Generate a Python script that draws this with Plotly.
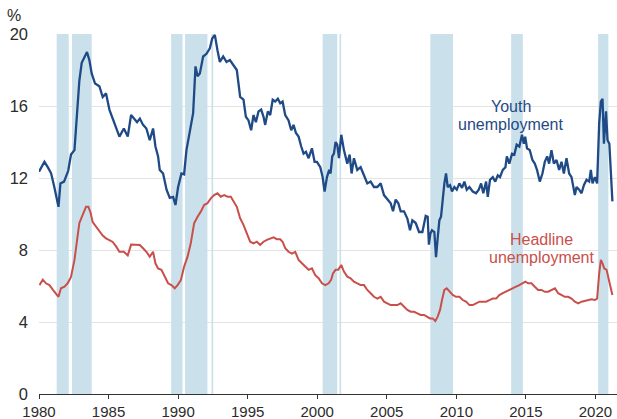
import plotly.graph_objects as go

# Shaded periods (decimal years)
shade_start = [1981.27, 1982.37, 1989.50, 1990.50, 1992.40, 2000.39, 2001.60, 2008.13, 2013.94, 2020.19]
shade_end = [1982.14, 1983.79, 1990.32, 1992.11, 1992.52, 2001.44, 2001.72, 2009.76, 2014.78, 2020.93]

# Youth unemployment (%)
youth_t = [1980.0, 1980.39, 1980.63, 1980.87, 1981.1, 1981.4, 1981.54, 1981.8, 1982.1, 1982.3,
           1982.55, 1982.73, 1982.9, 1983.07, 1983.26, 1983.45, 1983.62, 1983.79, 1984.03, 1984.34,
           1984.58, 1984.82, 1985.06, 1985.3, 1985.54, 1985.78, 1986.1, 1986.38, 1986.62, 1986.86,
           1987.05, 1987.25, 1987.48, 1987.72, 1987.96, 1988.2, 1988.37, 1988.56, 1988.68, 1988.92,
           1989.17, 1989.4, 1989.64, 1989.81, 1990.0, 1990.24, 1990.43, 1990.6, 1990.84, 1991.08,
           1991.25, 1991.4, 1991.56, 1991.8, 1992.04, 1992.28, 1992.45, 1992.64, 1992.83, 1993.0,
           1993.24, 1993.48, 1993.72, 1993.96, 1994.22, 1994.46, 1994.7, 1994.87, 1995.06, 1995.25,
           1995.42, 1995.59, 1995.78, 1995.97, 1996.14, 1996.26, 1996.45, 1996.62, 1996.8, 1996.98,
           1997.17, 1997.34, 1997.51, 1997.7, 1997.94, 1998.13, 1998.3, 1998.47, 1998.66, 1998.85,
           1999.02, 1999.19, 1999.38, 1999.62, 1999.81, 1999.98, 2000.22, 2000.39, 2000.53, 2000.7,
           2000.86, 2000.96, 2001.08, 2001.2, 2001.32, 2001.44, 2001.56, 2001.73, 2001.92, 2002.16,
           2002.33, 2002.47, 2002.64, 2002.88, 2003.12, 2003.36, 2003.6, 2003.84, 2004.08, 2004.32,
           2004.56, 2004.8, 2005.04, 2005.28, 2005.45, 2005.64, 2005.83, 2006.0, 2006.24, 2006.48,
           2006.67, 2006.84, 2007.08, 2007.32, 2007.56, 2007.8, 2007.94, 2008.03, 2008.13, 2008.25,
           2008.42, 2008.54, 2008.67, 2008.78, 2008.9, 2009.02, 2009.14, 2009.26, 2009.38, 2009.55,
           2009.69, 2009.86, 2010.03, 2010.22, 2010.41, 2010.58, 2010.75, 2010.94, 2011.18, 2011.42,
           2011.61, 2011.78, 2011.94, 2012.14, 2012.26, 2012.42, 2012.62, 2012.8, 2012.98, 2013.14,
           2013.34, 2013.53, 2013.63, 2013.81, 2014.0, 2014.17, 2014.34, 2014.53, 2014.72, 2014.85,
           2014.95, 2015.08, 2015.28, 2015.47, 2015.64, 2015.8, 2016.0, 2016.19, 2016.36, 2016.53,
           2016.67, 2016.84, 2017.01, 2017.2, 2017.39, 2017.56, 2017.73, 2017.92, 2018.11, 2018.28,
           2018.4, 2018.52, 2018.64, 2018.83, 2019.0, 2019.17, 2019.36, 2019.55, 2019.67, 2019.79,
           2019.96, 2020.12, 2020.27, 2020.39, 2020.51, 2020.61, 2020.76, 2020.87, 2021.0, 2021.1,
           2021.22]
youth_v = [12.35, 12.9, 12.6, 12.26, 11.5, 10.4, 11.7, 11.8, 12.4, 13.3,
           13.55, 15.6, 17.4, 18.4, 18.7, 19.0, 18.55, 17.8, 17.25, 17.1,
           16.5, 16.7, 15.8, 15.3, 14.85, 14.3, 14.75, 14.3, 15.5, 15.3,
           15.1, 15.3, 14.95, 14.75, 14.1, 14.75, 13.75, 13.2, 12.45, 12.25,
           11.35, 10.9, 10.95, 10.5, 11.5, 12.25, 12.2, 13.55, 14.65, 15.6,
           18.2, 17.65, 17.8, 18.75, 18.9, 19.2, 19.75, 19.95, 19.1, 18.45,
           18.75, 18.45, 18.55, 18.25, 18.0, 16.5, 16.35, 15.4, 15.2, 14.65,
           15.5, 15.1, 15.7, 15.8, 15.4, 14.95, 15.7, 15.5, 16.35, 16.25,
           16.4, 16.15, 16.25, 15.5, 15.2, 14.65, 14.95, 14.5, 14.3, 13.75,
           13.35, 13.45, 13.1, 13.65, 12.9, 12.9, 12.6, 12.05, 11.25, 12.05,
           12.45, 12.25, 13.2, 13.35, 14.0, 13.85, 13.1, 14.4, 13.55, 12.8,
           13.3, 12.25, 13.1, 12.45, 12.6, 12.15, 11.7, 11.8, 11.5, 11.5,
           11.7, 11.05, 10.85, 10.6, 10.15, 10.8, 10.6, 10.15, 10.15, 9.75,
           9.1, 9.65, 9.5, 9.0, 9.0, 9.9, 9.85, 8.3, 8.9, 9.1,
           9.0, 7.6, 8.75, 9.65, 9.85, 10.95, 11.7, 12.25, 11.5, 11.6,
           11.25, 11.5, 11.35, 11.7, 11.45, 11.8, 11.35, 11.5, 11.25, 11.15,
           11.35, 11.7, 11.15, 11.8, 10.95, 11.9, 12.05, 11.8, 12.15, 12.05,
           12.45, 12.6, 13.2, 12.8, 13.35, 13.3, 13.85, 13.75, 14.4, 13.9,
           14.3, 13.65, 13.55, 13.0, 12.8, 12.45, 11.8, 12.25, 12.9, 13.2,
           12.8, 13.55, 12.8, 13.0, 12.45, 12.9, 12.25, 13.1, 12.25, 12.05,
           11.5, 11.05, 11.5, 11.35, 11.15, 11.6, 11.9, 11.8, 12.45, 11.7,
           12.05, 11.7, 15.05, 16.25, 16.4, 13.9, 15.7, 14.1, 13.9, 12.25,
           10.7]

# Headline unemployment (%)
head_t = [1980.03, 1980.27, 1980.5, 1980.75, 1980.99, 1981.23, 1981.4, 1981.58, 1981.83, 1982.06,
          1982.3, 1982.55, 1982.73, 1982.9, 1983.14, 1983.38, 1983.55, 1983.7, 1983.86, 1984.1,
          1984.34, 1984.58, 1984.82, 1985.06, 1985.3, 1985.54, 1985.78, 1986.1, 1986.38, 1986.62,
          1986.98, 1987.25, 1987.48, 1987.72, 1987.96, 1988.2, 1988.37, 1988.56, 1988.8, 1989.04,
          1989.28, 1989.52, 1989.76, 1989.96, 1990.2, 1990.43, 1990.68, 1990.91, 1991.15, 1991.4,
          1991.63, 1991.87, 1992.11, 1992.35, 1992.59, 1992.83, 1993.07, 1993.31, 1993.55, 1993.79,
          1994.0, 1994.22, 1994.46, 1994.7, 1994.94, 1995.18, 1995.42, 1995.66, 1995.9, 1996.14,
          1996.38, 1996.62, 1996.86, 1997.1, 1997.34, 1997.51, 1997.7, 1997.94, 1998.18, 1998.42,
          1998.66, 1998.9, 1999.14, 1999.38, 1999.62, 1999.86, 2000.1, 2000.34, 2000.58, 2000.82,
          2001.0, 2001.13, 2001.32, 2001.51, 2001.73, 2001.92, 2002.16, 2002.4, 2002.64, 2002.88,
          2003.12, 2003.36, 2003.6, 2003.84, 2004.08, 2004.32, 2004.56, 2004.8, 2005.04, 2005.28,
          2005.52, 2005.76, 2006.0, 2006.24, 2006.48, 2006.72, 2006.96, 2007.2, 2007.44, 2007.68,
          2007.92, 2008.11, 2008.3, 2008.49, 2008.66, 2008.83, 2008.97, 2009.14, 2009.31, 2009.5,
          2009.74, 2009.98, 2010.22, 2010.46, 2010.7, 2010.94, 2011.18, 2011.42, 2011.66, 2011.9,
          2012.14, 2012.38, 2012.62, 2012.86, 2013.09, 2013.34, 2013.58, 2013.81, 2014.05, 2014.29,
          2014.53, 2014.77, 2014.96, 2015.16, 2015.4, 2015.64, 2015.88, 2016.12, 2016.36, 2016.6,
          2016.84, 2017.09, 2017.32, 2017.56, 2017.8, 2018.04, 2018.28, 2018.52, 2018.76, 2019.0,
          2019.24, 2019.48, 2019.72, 2019.96, 2020.12, 2020.27, 2020.39, 2020.51, 2020.63, 2020.8,
          2020.94, 2021.08, 2021.22]
head_v = [6.05, 6.35, 6.15, 6.05, 5.8, 5.6, 5.4, 5.87, 5.96, 6.15,
          6.5, 7.45, 8.4, 9.5, 9.95, 10.4, 10.4, 10.1, 9.55, 9.3,
          9.1, 8.8, 8.65, 8.55, 8.45, 8.2, 7.9, 7.9, 7.7, 8.3,
          8.3, 8.28, 8.1, 7.9, 7.63, 7.9, 7.26, 6.98, 6.9, 6.5,
          6.15, 6.05, 5.87, 6.05, 6.33, 7.07, 7.63, 8.37, 9.48, 9.85,
          10.13, 10.5, 10.6, 10.87, 11.05, 11.15, 10.96, 11.05, 10.96, 10.96,
          10.7, 10.4, 9.76, 9.4, 8.93, 8.46, 8.37, 8.46, 8.28, 8.46,
          8.56, 8.65, 8.7, 8.6, 8.6, 8.46, 8.1, 7.9, 7.8, 7.9,
          7.45, 7.26, 7.07, 6.9, 6.98, 6.6, 6.43, 6.15, 6.05, 6.15,
          6.35, 6.7, 6.9, 6.9, 7.17, 6.8, 6.52, 6.43, 6.24, 6.15,
          6.05, 6.05, 5.78, 5.6, 5.4, 5.3, 5.4, 5.13, 5.04, 4.94,
          4.94, 4.94, 5.04, 4.85, 4.67, 4.57, 4.57, 4.48, 4.39, 4.39,
          4.3, 4.2, 4.2, 4.05, 4.3, 4.67, 5.22, 5.78, 5.87, 5.68,
          5.5, 5.4, 5.4, 5.22, 5.13, 4.94, 4.94, 5.04, 5.13, 5.13,
          5.13, 5.22, 5.3, 5.3, 5.5, 5.6, 5.68, 5.78, 5.87, 5.96,
          6.05, 6.15, 6.24, 6.15, 6.15, 5.96, 5.78, 5.78, 5.68, 5.68,
          5.78, 5.87, 5.6, 5.5, 5.4, 5.4, 5.3, 5.13, 5.04, 5.13,
          5.18, 5.22, 5.26, 5.22, 5.3, 6.7, 7.45, 7.26, 6.98, 6.9,
          6.5, 5.96, 5.5]

y_ticks = [0, 4, 8, 12, 16, 20]
x_ticks = [1980, 1985, 1990, 1995, 2000, 2005, 2010, 2015, 2020]

FONT = "Liberation Sans, Arial, sans-serif"
BLUE = "#1f4a86"
RED = "#c9504a"
SHADE = "#cae1ec"
TXT = "#2b2b2b"

fig = go.Figure()

fig.add_trace(go.Scatter(x=head_t, y=head_v, mode="lines",
                         line=dict(color=RED, width=2.0), hoverinfo="skip", showlegend=False))
fig.add_trace(go.Scatter(x=youth_t, y=youth_v, mode="lines",
                         line=dict(color=BLUE, width=2.3), hoverinfo="skip", showlegend=False))

for s, e in zip(shade_start, shade_end):
    fig.add_shape(type="rect", xref="x", yref="y", x0=s, x1=e, y0=0, y1=20,
                  fillcolor=SHADE, line=dict(width=0), layer="between")

ann = [
    ("Youth", 2013.91, 15.96, BLUE),
    ("unemployment", 2013.91, 15.0, BLUE),
    ("Headline", 2016.14, 8.59, RED),
    ("unemployment", 2016.14, 7.59, RED),
]
for txt, x, y, c in ann:
    fig.add_annotation(x=x, y=y, xref="x", yref="y", text=txt, showarrow=False,
                       xanchor="center", yanchor="middle",
                       font=dict(family=FONT, size=16, color=c))

fig.add_annotation(x=-0.0435, y=1.05, xref="paper", yref="paper", text="%", showarrow=False,
                   xanchor="center", yanchor="middle", font=dict(family=FONT, size=16, color=TXT))

fig.update_layout(
    width=617, height=419,
    margin=dict(l=39, r=0, t=34, b=25),
    paper_bgcolor="white", plot_bgcolor="white",
    font=dict(family=FONT, size=16, color=TXT),
    xaxis=dict(range=[1980, 2021.55], tickvals=x_ticks, ticktext=[str(v) for v in x_ticks],
               showgrid=False, zeroline=False, showline=True, linecolor="#333333", linewidth=1,
               ticks="outside", ticklen=4, tickcolor="#333333", tickwidth=1, automargin=False,
               tickfont=dict(family=FONT, size=15, color=TXT)),
    yaxis=dict(range=[0, 20], tickvals=y_ticks, ticktext=[str(v) for v in y_ticks],
               showgrid=True, gridcolor="#e3e3e3", gridwidth=1, zeroline=False, showline=False,
               ticks="", ticklabelstandoff=10, automargin=False,
               tickfont=dict(family=FONT, size=16.5, color=TXT)),
)

fig.write_html("out.html", config={"displayModeBar": False},
               post_script="document.body.style.margin='0';document.body.style.overflow='hidden';")
